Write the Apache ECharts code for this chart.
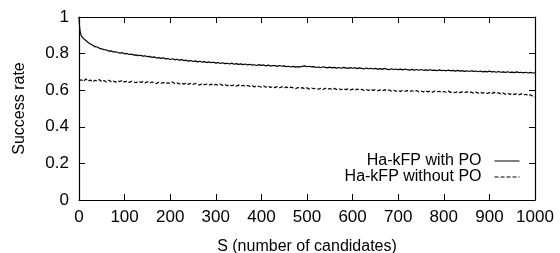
<!DOCTYPE html>
<html lang="en">
  <head>
    <meta charset="UTF-8" />
    <title>Success rate vs S</title>
    <script src="https://cdn.jsdelivr.net/npm/echarts@6/dist/echarts.min.js"></script>
  </head>
  <body style="margin: 0">
    <div id="main" style="width: 560px; height: 253px"></div>
    <script type="text/javascript">
      // S values: a few points at the start, then every 5 candidates
      const sValues = [0, 1, 2, 3, 4].concat(
        Array.from({ length: 200 }, (_, i) => 5 + 5 * i)
      );

      const withPO = [
        1.0, 0.955, 0.93, 0.915, 0.905,
        0.897, 0.882, 0.872, 0.861, 0.853, 0.846, 0.838, 0.836, 0.829, 0.826,
        0.821, 0.82, 0.814, 0.815, 0.809, 0.81, 0.806, 0.803, 0.805, 0.799,
        0.801, 0.795, 0.797, 0.792, 0.793, 0.789, 0.791, 0.786, 0.788, 0.783,
        0.785, 0.779, 0.782, 0.776, 0.778, 0.774, 0.777, 0.771, 0.773, 0.768,
        0.772, 0.766, 0.769, 0.764, 0.767, 0.762, 0.764, 0.759, 0.762, 0.757,
        0.76, 0.755, 0.758, 0.753, 0.756, 0.751, 0.755, 0.75, 0.753, 0.748,
        0.751, 0.746, 0.75, 0.745, 0.747, 0.743, 0.748, 0.742, 0.745, 0.741,
        0.744, 0.74, 0.743, 0.738, 0.742, 0.737, 0.739, 0.735, 0.74, 0.736,
        0.738, 0.733, 0.737, 0.732, 0.735, 0.734, 0.73, 0.735, 0.731, 0.733,
        0.729, 0.731, 0.727, 0.73, 0.726, 0.729, 0.727, 0.73, 0.733, 0.728,
        0.731, 0.727, 0.729, 0.724, 0.727, 0.723, 0.728, 0.725, 0.722, 0.726,
        0.722, 0.725, 0.721, 0.724, 0.72, 0.725, 0.722, 0.719, 0.723, 0.72,
        0.723, 0.718, 0.722, 0.719, 0.716, 0.721, 0.717, 0.72, 0.716, 0.719,
        0.715, 0.718, 0.714, 0.719, 0.715, 0.712, 0.717, 0.713, 0.716, 0.712,
        0.715, 0.711, 0.716, 0.712, 0.71, 0.714, 0.71, 0.713, 0.709, 0.713,
        0.709, 0.711, 0.708, 0.712, 0.708, 0.71, 0.706, 0.711, 0.707, 0.709,
        0.706, 0.71, 0.706, 0.708, 0.704, 0.708, 0.704, 0.707, 0.703, 0.706,
        0.702, 0.706, 0.703, 0.705, 0.701, 0.705, 0.7, 0.703, 0.7, 0.704,
        0.7, 0.702, 0.698, 0.702, 0.698, 0.7, 0.697, 0.701, 0.697, 0.699,
        0.696, 0.7, 0.696, 0.698, 0.695, 0.698, 0.694, 0.697, 0.694, 0.695
      ];

      const withoutPO = [
        0.652, 0.658, 0.649, 0.66, 0.651,
        0.657, 0.648, 0.661, 0.65, 0.656, 0.645, 0.654, 0.649, 0.658, 0.646,
        0.653, 0.645, 0.655, 0.647, 0.652, 0.643, 0.651, 0.647, 0.655, 0.644,
        0.65, 0.642, 0.649, 0.645, 0.641, 0.649, 0.643, 0.647, 0.64, 0.646,
        0.638, 0.645, 0.64, 0.636, 0.644, 0.638, 0.642, 0.635, 0.641, 0.637,
        0.645, 0.636, 0.641, 0.634, 0.639, 0.633, 0.64, 0.632, 0.638, 0.631,
        0.637, 0.633, 0.628, 0.636, 0.63, 0.634, 0.627, 0.633, 0.626, 0.632,
        0.627, 0.634, 0.626, 0.631, 0.624, 0.63, 0.624, 0.629, 0.622, 0.628,
        0.623, 0.627, 0.62, 0.626, 0.621, 0.625, 0.618, 0.624, 0.62, 0.617,
        0.623, 0.616, 0.622, 0.615, 0.621, 0.614, 0.62, 0.613, 0.619, 0.612,
        0.618, 0.611, 0.617, 0.612, 0.608, 0.615, 0.609, 0.614, 0.607, 0.613,
        0.606, 0.612, 0.608, 0.611, 0.605, 0.61, 0.604, 0.611, 0.605, 0.609,
        0.603, 0.61, 0.604, 0.608, 0.602, 0.609, 0.603, 0.607, 0.601, 0.606,
        0.6, 0.607, 0.601, 0.605, 0.599, 0.604, 0.598, 0.605, 0.599, 0.603,
        0.597, 0.602, 0.596, 0.603, 0.597, 0.601, 0.595, 0.6, 0.594, 0.599,
        0.593, 0.6, 0.594, 0.598, 0.592, 0.597, 0.593, 0.598, 0.591, 0.596,
        0.59, 0.597, 0.591, 0.595, 0.589, 0.596, 0.59, 0.594, 0.588, 0.593,
        0.589, 0.595, 0.588, 0.592, 0.586, 0.593, 0.587, 0.591, 0.585, 0.592,
        0.586, 0.59, 0.584, 0.59, 0.583, 0.589, 0.584, 0.588, 0.582, 0.587,
        0.581, 0.588, 0.582, 0.586, 0.579, 0.585, 0.578, 0.584, 0.577, 0.583,
        0.576, 0.582, 0.575, 0.58, 0.573, 0.578, 0.57, 0.575, 0.566, 0.562
      ];

      const seriesNames = ["Ha-kFP with PO", "Ha-kFP without PO"];

      const font = "Liberation Sans, Arial, sans-serif";
      const black = "#000";

      const pairs = (vals) => sValues.map((s, i) => [s, vals[i]]);

      const xBase = {
        type: "value",
        min: 0,
        max: 1000,
        interval: 100,
        splitLine: { show: false },
        axisLine: { show: true, onZero: false, lineStyle: { color: black, width: 1.2 } },
        axisTick: { show: true, inside: true, length: 6, lineStyle: { color: black } },
      };
      const yBase = {
        type: "value",
        min: 0,
        max: 1,
        interval: 0.2,
        splitLine: { show: false },
        axisLine: { show: true, onZero: false, lineStyle: { color: black, width: 1.2 } },
        axisTick: { show: true, inside: true, length: 6, lineStyle: { color: black } },
      };

      const chart = echarts.init(document.getElementById("main"));
      chart.setOption({
        animation: false,
        textStyle: { fontFamily: font, color: black },
        grid: { left: 79, right: 25, top: 17, bottom: 53, outerBoundsMode: "none" },
        legend: {
          orient: "vertical",
          align: "right",
          right: 40,
          top: 153,
          padding: 0,
          itemWidth: 25,
          itemHeight: 10,
          itemGap: 0,
          data: seriesNames,
          itemStyle: { opacity: 0 },
          lineStyle: { width: 1 },
          textStyle: { fontFamily: font, fontSize: 16, color: black, padding: [0, 8, 0, 0] },
        },
        xAxis: [
          Object.assign({}, xBase, {
            position: "bottom",
            name: "S (number of candidates)",
            nameLocation: "middle",
            nameGap: 39,
            nameTextStyle: { fontFamily: font, fontSize: 16, color: black },
            axisLabel: {
              margin: 9,
              fontFamily: font,
              fontSize: 17,
              color: black,
              formatter: (v) => String(v),
            },
          }),
          Object.assign({}, xBase, { position: "top", axisLabel: { show: false } }),
        ],
        yAxis: [
          Object.assign({}, yBase, {
            position: "left",
            name: "Success rate",
            nameLocation: "middle",
            nameGap: 51,
            nameTextStyle: { fontFamily: font, fontSize: 16, color: black },
            axisLabel: { margin: 10, fontFamily: font, fontSize: 17, color: black },
          }),
          Object.assign({}, yBase, { position: "right", axisLabel: { show: false } }),
        ],
        series: [
          {
            name: seriesNames[0],
            type: "line",
            symbol: "none",
            data: pairs(withPO),
            lineStyle: { color: black, width: 1.2 },
            itemStyle: { color: black },
          },
          {
            name: seriesNames[1],
            type: "line",
            symbol: "none",
            data: pairs(withoutPO),
            lineStyle: { color: black, width: 1.2, type: [4, 2] },
            itemStyle: { color: black },
          },
        ],
      });
    </script>
  </body>
</html>
